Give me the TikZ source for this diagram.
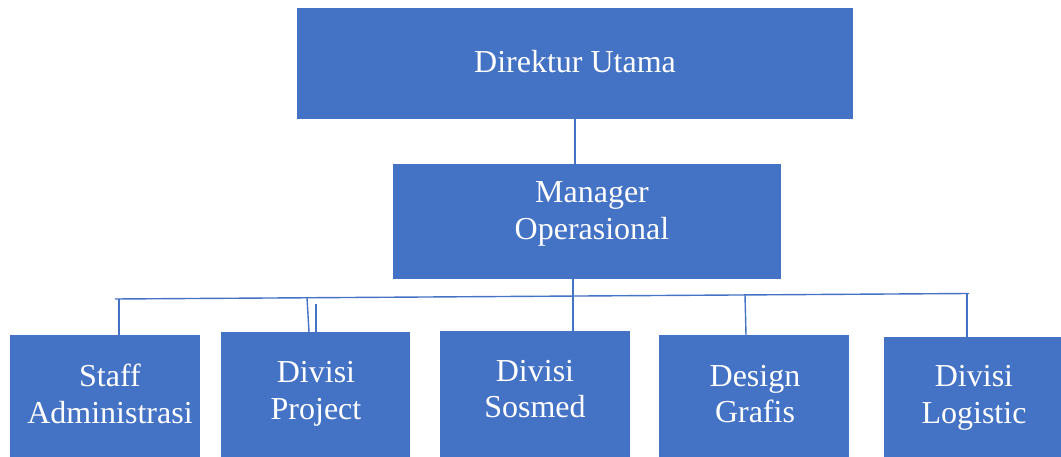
\documentclass[tikz,border=0pt]{standalone}
\usepackage{fontspec}
\setmainfont{Liberation Serif}
\definecolor{obl}{HTML}{4472C4}
\begin{document}
\begin{tikzpicture}[x=1pt,y=-1pt,
  box/.style={draw=none,fill=obl,anchor=north west,inner sep=0pt},
  lbl/.style={text=white,inner sep=0pt,align=center,font=\fontsize{32}{36.5}\selectfont},
  conn/.style={draw=obl,line width=1.4pt}]
\useasboundingbox (0,0) rectangle (1061,457);
\node[box,minimum width=556pt,minimum height=111pt] (dir) at (297,8) {};
\node[box,minimum width=388pt,minimum height=115pt] (man) at (393,164) {};
\node[box,minimum width=190pt,minimum height=122pt] (s1) at (10,335) {};
\node[box,minimum width=189pt,minimum height=125pt] (s2) at (221,332) {};
\node[box,minimum width=190pt,minimum height=126pt] (s3) at (440,331) {};
\node[box,minimum width=190pt,minimum height=122pt] (s4) at (659,335) {};
\node[box,minimum width=177pt,minimum height=120pt] (s5) at (884,337) {};
\node[lbl] (tdir) at (575,62) {Direktur Utama};
\node[lbl] (tman) at (592,214) {Manager\\Operasional};
\node[lbl] (t1) at (110,394) {Staff\\Administrasi};
\node[lbl] (t2) at (316,394) {Divisi\\Project};
\node[lbl] (t3) at (535,389) {Divisi\\Sosmed};
\node[lbl] (t4) at (755,394) {Design\\Grafis};
\node[lbl] (t5) at (974,398) {Divisi\\Logistic};
\coordinate (hl) at (115,299);
\coordinate (hr) at (969,293.5);
\coordinate (j0) at (575,0);
\coordinate (j1) at (119,299);
\coordinate (j2) at (307,297.5);
\coordinate (j3) at (573,296);
\coordinate (j4) at (745,295);
\coordinate (j5) at (967,293.5);
\coordinate (x2) at (316,304);
\draw[conn] (j0 |- dir.south) -- (j0 |- man.north);
\draw[conn] (hl) -- (hr);
\draw[conn] (man.south -| j3) -- (j3) -- (j3 |- s3.north);
\draw[conn] (j1) -- (j1 |- s1.north);
\draw[conn] (j2) -- ([xshift=2pt]j2 |- s2.north);
\draw[conn] (x2) -- (x2 |- s2.north);
\draw[conn] (j4) -- ([xshift=1pt]j4 |- s4.north);
\draw[conn] (j5) -- (j5 |- s5.north);
\end{tikzpicture}
\end{document}
